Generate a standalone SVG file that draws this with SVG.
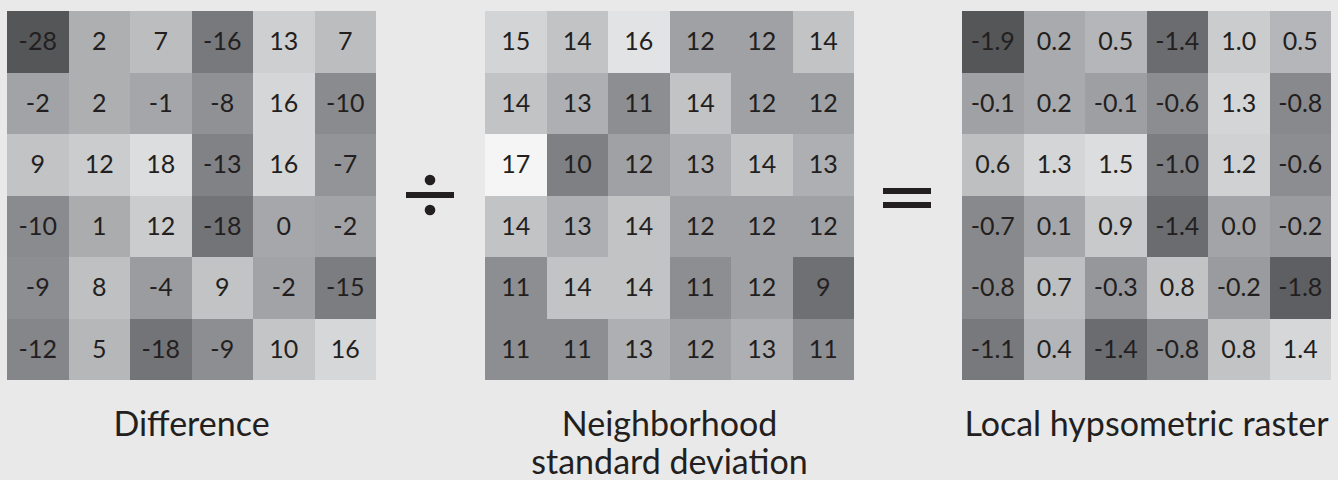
<svg xmlns="http://www.w3.org/2000/svg" width="1338" height="480" viewBox="0 0 1338 480">
<style>
.cell rect{shape-rendering:crispEdges}
.cell text{font-family:Lato,"Open Sans","Liberation Sans",sans-serif;font-size:25px;fill:#231f20;text-anchor:middle}
.cell text.lbl{font-size:34px}
.op{fill:#231f20}
</style>
<rect width="1338" height="480" fill="#e8e9e8"/>
<g id="difference" class="cell" transform="translate(7,11)">
<rect x="0" y="0" width="61.5" height="61.5" fill="rgb(85,86,88)"/><text x="30.75" y="39.35">-28</text>
<rect x="61.5" y="0" width="61.5" height="61.5" fill="rgb(174,175,177)"/><text x="92.25" y="39.35">2</text>
<rect x="123" y="0" width="61.5" height="61.5" fill="rgb(188,189,191)"/><text x="153.75" y="39.35">7</text>
<rect x="184.5" y="0" width="61.5" height="61.5" fill="rgb(120,121,124)"/><text x="215.25" y="39.35">-16</text>
<rect x="246" y="0" width="61.5" height="61.5" fill="rgb(206,207,209)"/><text x="276.75" y="39.35">13</text>
<rect x="307.5" y="0" width="61.5" height="61.5" fill="rgb(188,189,191)"/><text x="338.25" y="39.35">7</text>
<rect x="0" y="61.5" width="61.5" height="61.5" fill="rgb(162,163,166)"/><text x="30.75" y="100.85">-2</text>
<rect x="61.5" y="61.5" width="61.5" height="61.5" fill="rgb(174,175,177)"/><text x="92.25" y="100.85">2</text>
<rect x="123" y="61.5" width="61.5" height="61.5" fill="rgb(165,166,169)"/><text x="153.75" y="100.85">-1</text>
<rect x="184.5" y="61.5" width="61.5" height="61.5" fill="rgb(144,145,148)"/><text x="215.25" y="100.85">-8</text>
<rect x="246" y="61.5" width="61.5" height="61.5" fill="rgb(213,214,215)"/><text x="276.75" y="100.85">16</text>
<rect x="307.5" y="61.5" width="61.5" height="61.5" fill="rgb(138,139,142)"/><text x="338.25" y="100.85">-10</text>
<rect x="0" y="123" width="61.5" height="61.5" fill="rgb(194,195,197)"/><text x="30.75" y="162.35">9</text>
<rect x="61.5" y="123" width="61.5" height="61.5" fill="rgb(203,204,205)"/><text x="92.25" y="162.35">12</text>
<rect x="123" y="123" width="61.5" height="61.5" fill="rgb(220,221,223)"/><text x="153.75" y="162.35">18</text>
<rect x="184.5" y="123" width="61.5" height="61.5" fill="rgb(129,130,133)"/><text x="215.25" y="162.35">-13</text>
<rect x="246" y="123" width="61.5" height="61.5" fill="rgb(213,214,215)"/><text x="276.75" y="162.35">16</text>
<rect x="307.5" y="123" width="61.5" height="61.5" fill="rgb(147,148,151)"/><text x="338.25" y="162.35">-7</text>
<rect x="0" y="184.5" width="61.5" height="61.5" fill="rgb(138,139,142)"/><text x="30.75" y="223.85">-10</text>
<rect x="61.5" y="184.5" width="61.5" height="61.5" fill="rgb(171,172,174)"/><text x="92.25" y="223.85">1</text>
<rect x="123" y="184.5" width="61.5" height="61.5" fill="rgb(203,204,205)"/><text x="153.75" y="223.85">12</text>
<rect x="184.5" y="184.5" width="61.5" height="61.5" fill="rgb(115,116,119)"/><text x="215.25" y="223.85">-18</text>
<rect x="246" y="184.5" width="61.5" height="61.5" fill="rgb(166,167,170)"/><text x="276.75" y="223.85">0</text>
<rect x="307.5" y="184.5" width="61.5" height="61.5" fill="rgb(162,163,166)"/><text x="338.25" y="223.85">-2</text>
<rect x="0" y="246" width="61.5" height="61.5" fill="rgb(141,142,145)"/><text x="30.75" y="285.35">-9</text>
<rect x="61.5" y="246" width="61.5" height="61.5" fill="rgb(191,192,194)"/><text x="92.25" y="285.35">8</text>
<rect x="123" y="246" width="61.5" height="61.5" fill="rgb(155,156,159)"/><text x="153.75" y="285.35">-4</text>
<rect x="184.5" y="246" width="61.5" height="61.5" fill="rgb(194,195,197)"/><text x="215.25" y="285.35">9</text>
<rect x="246" y="246" width="61.5" height="61.5" fill="rgb(162,163,166)"/><text x="276.75" y="285.35">-2</text>
<rect x="307.5" y="246" width="61.5" height="61.5" fill="rgb(124,125,128)"/><text x="338.25" y="285.35">-15</text>
<rect x="0" y="307.5" width="61.5" height="61.5" fill="rgb(133,134,137)"/><text x="30.75" y="346.85">-12</text>
<rect x="61.5" y="307.5" width="61.5" height="61.5" fill="rgb(182,183,185)"/><text x="92.25" y="346.85">5</text>
<rect x="123" y="307.5" width="61.5" height="61.5" fill="rgb(115,116,119)"/><text x="153.75" y="346.85">-18</text>
<rect x="184.5" y="307.5" width="61.5" height="61.5" fill="rgb(141,142,145)"/><text x="215.25" y="346.85">-9</text>
<rect x="246" y="307.5" width="61.5" height="61.5" fill="rgb(196,197,199)"/><text x="276.75" y="346.85">10</text>
<rect x="307.5" y="307.5" width="61.5" height="61.5" fill="rgb(214,215,216)"/><text x="338.25" y="346.85">16</text>
<text class="lbl" x="184.5" y="424.7">Difference</text>
</g>
<g id="divide" class="op">
<rect x="406" y="192" width="48" height="6"/>
<circle cx="430" cy="180" r="5.3"/>
<circle cx="430" cy="210" r="5.3"/>
</g>
<g id="std-dev" class="cell" transform="translate(485,11)">
<rect x="0" y="0" width="61.5" height="61.5" fill="rgb(211,212,213)"/><text x="30.75" y="39.35">15</text>
<rect x="61.5" y="0" width="61.5" height="61.5" fill="rgb(194,195,197)"/><text x="92.25" y="39.35">14</text>
<rect x="123" y="0" width="61.5" height="61.5" fill="rgb(226,227,228)"/><text x="153.75" y="39.35">16</text>
<rect x="184.5" y="0" width="61.5" height="61.5" fill="rgb(160,161,164)"/><text x="215.25" y="39.35">12</text>
<rect x="246" y="0" width="61.5" height="61.5" fill="rgb(160,161,164)"/><text x="276.75" y="39.35">12</text>
<rect x="307.5" y="0" width="61.5" height="61.5" fill="rgb(194,195,197)"/><text x="338.25" y="39.35">14</text>
<rect x="0" y="61.5" width="61.5" height="61.5" fill="rgb(194,195,197)"/><text x="30.75" y="100.85">14</text>
<rect x="61.5" y="61.5" width="61.5" height="61.5" fill="rgb(174,175,178)"/><text x="92.25" y="100.85">13</text>
<rect x="123" y="61.5" width="61.5" height="61.5" fill="rgb(141,142,145)"/><text x="153.75" y="100.85">11</text>
<rect x="184.5" y="61.5" width="61.5" height="61.5" fill="rgb(194,195,197)"/><text x="215.25" y="100.85">14</text>
<rect x="246" y="61.5" width="61.5" height="61.5" fill="rgb(160,161,164)"/><text x="276.75" y="100.85">12</text>
<rect x="307.5" y="61.5" width="61.5" height="61.5" fill="rgb(160,161,164)"/><text x="338.25" y="100.85">12</text>
<rect x="0" y="123" width="61.5" height="61.5" fill="rgb(245,245,246)"/><text x="30.75" y="162.35">17</text>
<rect x="61.5" y="123" width="61.5" height="61.5" fill="rgb(127,128,131)"/><text x="92.25" y="162.35">10</text>
<rect x="123" y="123" width="61.5" height="61.5" fill="rgb(160,161,164)"/><text x="153.75" y="162.35">12</text>
<rect x="184.5" y="123" width="61.5" height="61.5" fill="rgb(174,175,178)"/><text x="215.25" y="162.35">13</text>
<rect x="246" y="123" width="61.5" height="61.5" fill="rgb(194,195,197)"/><text x="276.75" y="162.35">14</text>
<rect x="307.5" y="123" width="61.5" height="61.5" fill="rgb(174,175,178)"/><text x="338.25" y="162.35">13</text>
<rect x="0" y="184.5" width="61.5" height="61.5" fill="rgb(194,195,197)"/><text x="30.75" y="223.85">14</text>
<rect x="61.5" y="184.5" width="61.5" height="61.5" fill="rgb(174,175,178)"/><text x="92.25" y="223.85">13</text>
<rect x="123" y="184.5" width="61.5" height="61.5" fill="rgb(194,195,197)"/><text x="153.75" y="223.85">14</text>
<rect x="184.5" y="184.5" width="61.5" height="61.5" fill="rgb(160,161,164)"/><text x="215.25" y="223.85">12</text>
<rect x="246" y="184.5" width="61.5" height="61.5" fill="rgb(160,161,164)"/><text x="276.75" y="223.85">12</text>
<rect x="307.5" y="184.5" width="61.5" height="61.5" fill="rgb(160,161,164)"/><text x="338.25" y="223.85">12</text>
<rect x="0" y="246" width="61.5" height="61.5" fill="rgb(141,142,145)"/><text x="30.75" y="285.35">11</text>
<rect x="61.5" y="246" width="61.5" height="61.5" fill="rgb(194,195,197)"/><text x="92.25" y="285.35">14</text>
<rect x="123" y="246" width="61.5" height="61.5" fill="rgb(194,195,197)"/><text x="153.75" y="285.35">14</text>
<rect x="184.5" y="246" width="61.5" height="61.5" fill="rgb(141,142,145)"/><text x="215.25" y="285.35">11</text>
<rect x="246" y="246" width="61.5" height="61.5" fill="rgb(160,161,164)"/><text x="276.75" y="285.35">12</text>
<rect x="307.5" y="246" width="61.5" height="61.5" fill="rgb(111,112,116)"/><text x="338.25" y="285.35">9</text>
<rect x="0" y="307.5" width="61.5" height="61.5" fill="rgb(141,142,145)"/><text x="30.75" y="346.85">11</text>
<rect x="61.5" y="307.5" width="61.5" height="61.5" fill="rgb(141,142,145)"/><text x="92.25" y="346.85">11</text>
<rect x="123" y="307.5" width="61.5" height="61.5" fill="rgb(174,175,178)"/><text x="153.75" y="346.85">13</text>
<rect x="184.5" y="307.5" width="61.5" height="61.5" fill="rgb(160,161,164)"/><text x="215.25" y="346.85">12</text>
<rect x="246" y="307.5" width="61.5" height="61.5" fill="rgb(174,175,178)"/><text x="276.75" y="346.85">13</text>
<rect x="307.5" y="307.5" width="61.5" height="61.5" fill="rgb(141,142,145)"/><text x="338.25" y="346.85">11</text>
<text class="lbl" x="184.5" y="424.7">Neighborhood</text>
<text class="lbl" x="184.5" y="462.7">standard deviation</text>
</g>
<g id="equals" class="op">
<rect x="883" y="188" width="48" height="6"/>
<rect x="883" y="202" width="48" height="6"/>
</g>
<g id="local-hypsometric" class="cell" transform="translate(962,11)">
<rect x="0" y="0" width="61.5" height="61.5" fill="rgb(85,86,88)"/><text x="30.75" y="39.35">-1.9</text>
<rect x="61.5" y="0" width="61.5" height="61.5" fill="rgb(169,170,173)"/><text x="92.25" y="39.35">0.2</text>
<rect x="123" y="0" width="61.5" height="61.5" fill="rgb(181,182,185)"/><text x="153.75" y="39.35">0.5</text>
<rect x="184.5" y="0" width="61.5" height="61.5" fill="rgb(107,108,112)"/><text x="215.25" y="39.35">-1.4</text>
<rect x="246" y="0" width="61.5" height="61.5" fill="rgb(203,204,205)"/><text x="276.75" y="39.35">1.0</text>
<rect x="307.5" y="0" width="61.5" height="61.5" fill="rgb(181,182,185)"/><text x="338.25" y="39.35">0.5</text>
<rect x="0" y="61.5" width="61.5" height="61.5" fill="rgb(160,161,164)"/><text x="30.75" y="100.85">-0.1</text>
<rect x="61.5" y="61.5" width="61.5" height="61.5" fill="rgb(169,170,173)"/><text x="92.25" y="100.85">0.2</text>
<rect x="123" y="61.5" width="61.5" height="61.5" fill="rgb(158,159,162)"/><text x="153.75" y="100.85">-0.1</text>
<rect x="184.5" y="61.5" width="61.5" height="61.5" fill="rgb(140,141,144)"/><text x="215.25" y="100.85">-0.6</text>
<rect x="246" y="61.5" width="61.5" height="61.5" fill="rgb(212,213,214)"/><text x="276.75" y="100.85">1.3</text>
<rect x="307.5" y="61.5" width="61.5" height="61.5" fill="rgb(136,137,140)"/><text x="338.25" y="100.85">-0.8</text>
<rect x="0" y="123" width="61.5" height="61.5" fill="rgb(190,191,193)"/><text x="30.75" y="162.35">0.6</text>
<rect x="61.5" y="123" width="61.5" height="61.5" fill="rgb(212,213,214)"/><text x="92.25" y="162.35">1.3</text>
<rect x="123" y="123" width="61.5" height="61.5" fill="rgb(220,221,223)"/><text x="153.75" y="162.35">1.5</text>
<rect x="184.5" y="123" width="61.5" height="61.5" fill="rgb(124,125,129)"/><text x="215.25" y="162.35">-1.0</text>
<rect x="246" y="123" width="61.5" height="61.5" fill="rgb(208,209,210)"/><text x="276.75" y="162.35">1.2</text>
<rect x="307.5" y="123" width="61.5" height="61.5" fill="rgb(140,141,144)"/><text x="338.25" y="162.35">-0.6</text>
<rect x="0" y="184.5" width="61.5" height="61.5" fill="rgb(136,137,140)"/><text x="30.75" y="223.85">-0.7</text>
<rect x="61.5" y="184.5" width="61.5" height="61.5" fill="rgb(166,167,170)"/><text x="92.25" y="223.85">0.1</text>
<rect x="123" y="184.5" width="61.5" height="61.5" fill="rgb(200,201,203)"/><text x="153.75" y="223.85">0.9</text>
<rect x="184.5" y="184.5" width="61.5" height="61.5" fill="rgb(107,108,112)"/><text x="215.25" y="223.85">-1.4</text>
<rect x="246" y="184.5" width="61.5" height="61.5" fill="rgb(163,164,167)"/><text x="276.75" y="223.85">0.0</text>
<rect x="307.5" y="184.5" width="61.5" height="61.5" fill="rgb(154,155,158)"/><text x="338.25" y="223.85">-0.2</text>
<rect x="0" y="246" width="61.5" height="61.5" fill="rgb(136,137,140)"/><text x="30.75" y="285.35">-0.8</text>
<rect x="61.5" y="246" width="61.5" height="61.5" fill="rgb(190,191,193)"/><text x="92.25" y="285.35">0.7</text>
<rect x="123" y="246" width="61.5" height="61.5" fill="rgb(150,151,154)"/><text x="153.75" y="285.35">-0.3</text>
<rect x="184.5" y="246" width="61.5" height="61.5" fill="rgb(194,195,197)"/><text x="215.25" y="285.35">0.8</text>
<rect x="246" y="246" width="61.5" height="61.5" fill="rgb(154,155,158)"/><text x="276.75" y="285.35">-0.2</text>
<rect x="307.5" y="246" width="61.5" height="61.5" fill="rgb(94,95,98)"/><text x="338.25" y="285.35">-1.8</text>
<rect x="0" y="307.5" width="61.5" height="61.5" fill="rgb(120,121,125)"/><text x="30.75" y="346.85">-1.1</text>
<rect x="61.5" y="307.5" width="61.5" height="61.5" fill="rgb(180,181,184)"/><text x="92.25" y="346.85">0.4</text>
<rect x="123" y="307.5" width="61.5" height="61.5" fill="rgb(107,108,112)"/><text x="153.75" y="346.85">-1.4</text>
<rect x="184.5" y="307.5" width="61.5" height="61.5" fill="rgb(136,137,140)"/><text x="215.25" y="346.85">-0.8</text>
<rect x="246" y="307.5" width="61.5" height="61.5" fill="rgb(194,195,197)"/><text x="276.75" y="346.85">0.8</text>
<rect x="307.5" y="307.5" width="61.5" height="61.5" fill="rgb(214,215,216)"/><text x="338.25" y="346.85">1.4</text>
<text class="lbl" x="184.5" y="424.7">Local hypsometric raster</text>
</g>
</svg>
